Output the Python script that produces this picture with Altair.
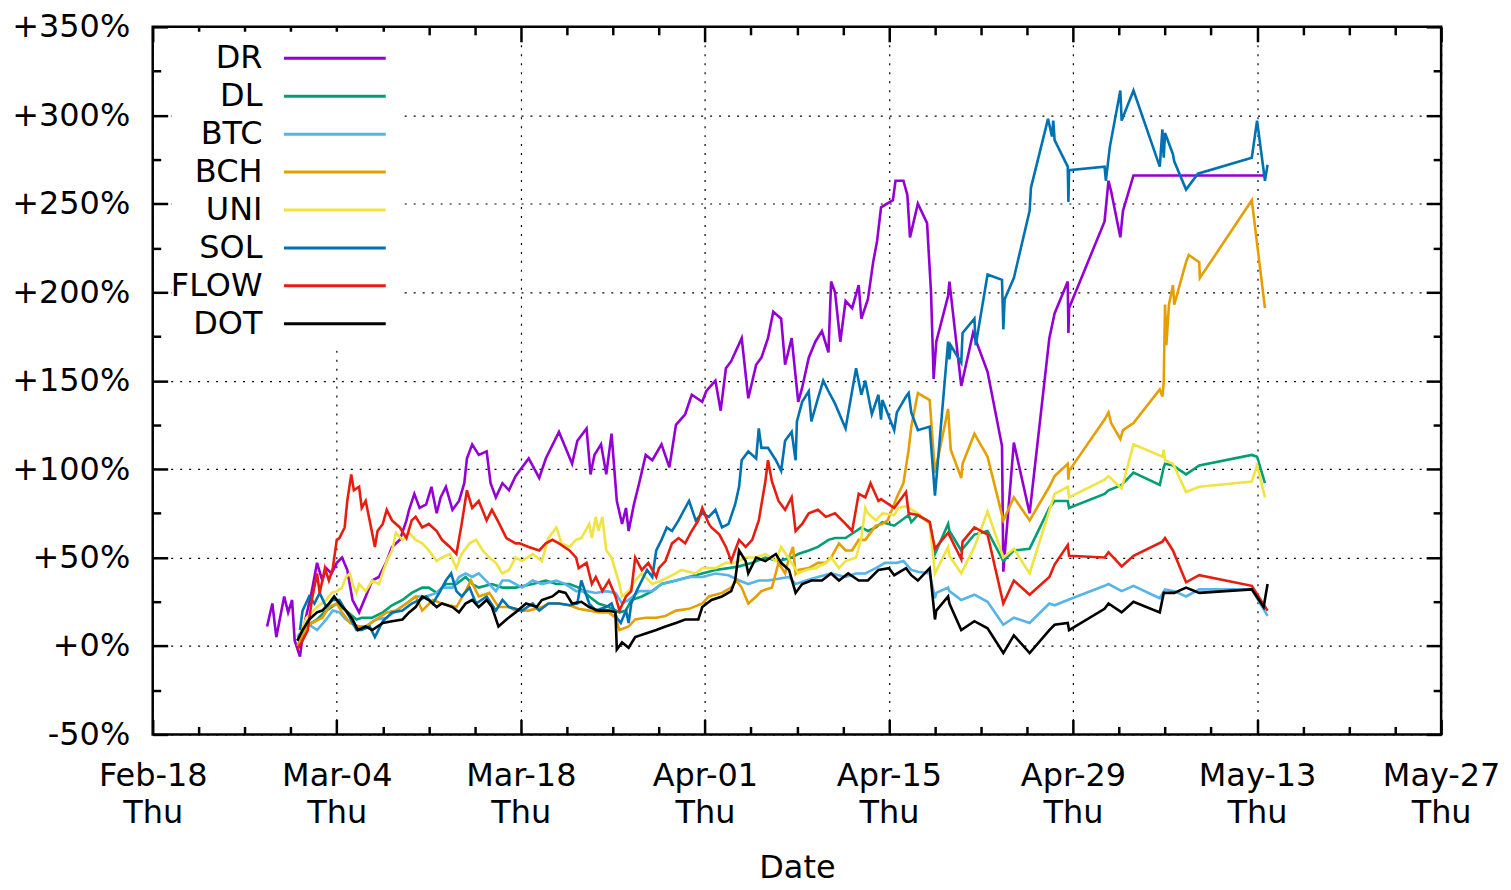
import altair as alt
import pandas as pd

# ---------------- data (day offset from 2021-02-18, percent change) ----------------
DR = [(8.7,11),(9.1,24),(9.4,5),(10.0,28),(10.3,19),(10.6,26),(10.8,3),(11.2,-6),(11.5,11),(12.1,31),(12.5,47),(12.9,37),(13.2,44),(13.6,41),(14.0,47),(14.4,50),(14.8,43),(15.2,26),(15.7,19),(16.2,28),(16.7,37),(17.2,39),(17.8,48),(18.2,56),(18.8,60),(19.3,71),(19.5,77),(19.9,86),(20.3,78),(20.8,80),(21.2,90),(21.6,75),(21.9,84),(22.3,90),(22.8,77),(23.3,82),(23.7,92),(23.9,106),(24.3,114),(24.8,108),(25.4,110),(25.7,92),(26.1,84),(26.6,92),(27.1,88),(27.6,96),(28.1,101),(28.6,106),(29.4,95),(29.9,106),(30.9,121),(31.4,112),(31.9,103),(32.3,116),(33.0,123),(33.3,97),(33.6,108),(34.1,114),(34.5,97),(34.9,120),(35.3,82),(35.7,69),(36.0,78),(36.2,65),(36.6,80),(37.0,92),(37.5,108),(38.0,105),(38.7,114),(39.3,101),(39.8,125),(40.5,131),(41.0,142),(41.8,138),(42.1,144),(42.8,150),(43.2,133),(43.6,157),(44.0,161),(44.8,174),(45.3,140),(45.9,159),(46.3,163),(46.8,174),(47.2,189),(47.8,185),(48.1,159),(48.6,174),(49.1,138),(49.4,146),(49.9,163),(50.4,172),(50.9,178),(51.4,166),(51.6,206),(51.9,200),(52.3,172),(52.7,195),(53.2,191),(53.7,204),(53.9,185),(54.4,196),(54.8,217),(55.1,229),(55.4,248),(56.3,252),(56.5,263),(57.1,263),(57.4,255),(57.6,231),(58.2,250),(58.9,239),(59.2,200),(59.4,151),(59.6,172),(60.5,198),(60.6,206),(61.5,147),(62.4,177),(63.5,155),(64.6,113),(64.7,42),(65.5,115),(66.7,75),(68.2,174),(68.6,188),(69.6,206),(69.65,177),(69.7,191),(72.4,240),(72.7,263),(72.9,257),(73.6,231),(73.8,246),(74.6,266),(84.6,266)]

DL = [(11.0,3),(11.7,11),(12.5,15),(13.2,20),(14.0,24),(14.7,20),(15.5,15),(15.9,16),(16.7,16),(17.5,19),(18.2,23),(19.0,26),(19.7,30),(20.5,33),(21.0,33),(21.6,30),(22.3,35),(23.1,35),(23.8,39),(24.3,35),(24.8,33),(25.8,35),(26.6,33),(27.6,33),(28.9,35),(29.9,37),(30.7,35),(31.7,35),(32.4,33),(33.2,28),(33.9,24),(34.7,22),(35.5,19),(36.0,20),(36.4,26),(37.2,28),(38.0,31),(38.7,35),(39.8,37),(40.8,39),(41.8,41),(42.8,43),(43.8,44),(44.6,45),(45.6,47),(46.6,50),(47.6,48),(48.6,50),(49.1,52),(49.9,54),(50.6,56),(51.4,60),(51.9,61),(52.7,61),(53.5,65),(53.9,67),(54.4,65),(55.0,67),(55.5,70),(56.4,68),(57.5,74),(57.7,70),(58.2,74),(59.1,70),(59.5,52),(60.5,69),(60.6,65),(61.5,54),(62.5,63),(63.5,65),(64.7,48),(65.5,54),(66.7,55),(68.2,78),(68.6,82),(69.6,82),(69.7,78),(72.4,86),(72.7,88),(73.7,91),(74.6,98),(76.6,91),(76.9,101),(77.0,103),(77.6,102),(78.6,97),(79.6,102),(83.6,108),(84.0,107),(84.6,92)]

BTC = [(11.0,5),(11.7,13),(12.5,9),(13.2,15),(13.7,20),(14.2,19),(14.7,15),(15.5,11),(16.2,11),(17.0,15),(17.8,16),(18.5,20),(19.3,24),(20.0,28),(20.8,28),(21.6,30),(22.0,33),(22.8,33),(23.3,39),(23.8,41),(24.3,39),(24.8,41),(25.6,35),(26.1,31),(26.6,37),(27.1,37),(28.1,33),(28.9,37),(29.6,35),(30.7,37),(31.4,35),(32.2,31),(33.0,31),(33.7,30),(34.5,31),(35.2,30),(35.7,24),(36.2,26),(37.0,31),(37.5,31),(38.0,31),(38.7,35),(39.8,37),(40.8,39),(41.8,39),(42.8,41),(43.8,40),(44.6,37),(45.3,35),(46.1,37),(46.8,37),(47.6,38),(48.4,39),(48.9,35),(49.7,37),(50.6,39),(51.6,41),(52.7,39),(53.5,41),(54.2,41),(55.0,44),(55.7,47),(56.6,47),(57.1,48),(57.7,43),(58.2,42),(59.1,41),(59.5,27),(59.6,30),(60.5,33),(60.6,31),(61.5,26),(62.5,29),(63.5,25),(64.7,12),(65.5,16),(66.7,13),(68.2,24),(68.6,23),(69.6,26),(72.4,34),(72.7,35),(73.7,31),(74.6,34),(76.6,27),(77.0,32),(77.7,31),(78.6,28),(79.6,32),(83.6,32),(84.8,17)]

BCH = [(11.0,0),(11.7,11),(12.1,13),(12.9,16),(13.4,22),(14.0,24),(14.4,19),(15.0,13),(15.7,11),(16.2,11),(17.0,15),(17.8,19),(18.5,20),(19.3,24),(20.0,28),(20.5,20),(21.3,26),(22.0,24),(23.1,22),(23.8,31),(24.2,37),(24.8,28),(25.6,30),(26.3,22),(27.1,22),(27.6,20),(28.6,20),(29.6,22),(30.1,24),(30.9,24),(31.7,23),(32.4,21),(33.2,20),(33.9,19),(34.7,19),(35.2,16),(35.5,9),(36.2,11),(36.7,15),(37.5,16),(38.3,16),(39.0,17),(39.8,20),(40.8,21),(41.8,24),(42.3,28),(43.3,30),(44.0,33),(44.4,37),(44.8,33),(45.3,24),(45.9,28),(46.3,31),(47.1,33),(47.6,47),(48.1,41),(48.4,50),(48.7,56),(48.9,41),(49.1,43),(49.9,44),(50.6,47),(51.2,47),(51.6,50),(52.2,58),(52.7,54),(53.2,54),(53.7,60),(54.2,60),(55.0,68),(55.5,69),(55.9,71),(56.6,84),(57.1,92),(57.5,111),(57.7,124),(58.2,143),(59.1,139),(59.5,98),(60.5,134),(60.7,111),(61.5,95),(61.6,103),(62.5,120),(63.5,107),(64.7,71),(65.5,84),(66.7,71),(68.2,90),(68.6,96),(69.6,103),(69.65,94),(69.7,99),(72.4,128),(72.7,132),(72.9,126),(73.6,117),(73.8,122),(74.6,126),(76.6,145),(76.8,141),(76.9,149),(77.0,193),(77.1,170),(77.3,193),(77.6,204),(77.7,193),(78.6,217),(78.8,221),(79.6,217),(79.65,208),(83.6,252),(84.6,191)]

UNI = [(11.2,7),(11.7,16),(12.5,22),(13.2,26),(13.6,30),(14.0,31),(14.4,33),(14.7,39),(15.0,41),(15.2,35),(15.5,30),(15.7,35),(16.2,31),(16.7,37),(17.2,35),(17.8,48),(18.2,54),(18.5,64),(19.0,60),(19.5,64),(20.0,60),(20.5,58),(21.0,54),(21.6,48),(22.0,50),(22.6,52),(23.1,44),(23.5,52),(24.1,58),(24.6,60),(25.1,54),(25.6,50),(26.1,47),(26.6,41),(27.1,43),(27.6,50),(28.1,48),(28.9,52),(29.6,48),(30.1,61),(30.7,67),(31.1,58),(31.7,56),(32.2,60),(32.6,61),(33.2,69),(33.4,61),(33.7,73),(33.9,65),(34.2,73),(34.5,54),(34.9,50),(35.5,35),(35.7,28),(36.2,31),(36.7,37),(37.2,41),(38.0,35),(38.7,37),(39.8,41),(40.2,43),(41.3,41),(41.8,44),(42.8,44),(43.6,47),(44.3,47),(45.1,50),(45.9,50),(46.6,52),(47.4,48),(47.8,56),(48.6,47),(49.1,41),(49.7,43),(50.4,44),(51.2,47),(51.6,50),(52.2,44),(52.7,48),(53.5,50),(53.9,61),(54.2,78),(54.4,75),(55.0,71),(55.5,75),(56.4,74),(56.7,78),(57.3,79),(58.2,75),(59.1,69),(59.5,41),(60.5,56),(60.6,51),(61.5,41),(62.5,56),(63.5,76),(64.7,50),(65.5,55),(66.7,41),(68.6,86),(69.6,90),(69.7,84),(72.4,94),(72.7,96),(73.7,89),(74.6,114),(76.8,107),(76.9,111),(77.0,105),(77.6,103),(78.6,87),(79.6,90),(83.6,93),(84.0,102),(84.6,84)]

SOL = [(11.2,9),(11.4,20),(11.9,28),(12.3,24),(12.7,30),(13.2,22),(13.7,26),(14.2,26),(15.0,16),(15.5,9),(15.9,9),(16.5,11),(16.9,5),(17.5,14),(18.2,19),(19.0,20),(19.7,24),(20.3,26),(20.8,28),(21.3,24),(21.8,30),(22.3,37),(22.7,41),(23.1,31),(23.5,28),(24.1,33),(24.6,24),(25.4,28),(26.1,20),(26.6,26),(27.1,22),(28.1,20),(28.9,24),(29.4,20),(30.1,24),(30.9,24),(31.7,23),(32.3,24),(32.6,37),(33.2,24),(33.7,20),(34.5,22),(34.9,24),(35.3,16),(35.6,13),(36.0,20),(36.2,13),(36.4,24),(36.8,31),(37.2,37),(37.6,43),(38.0,39),(38.3,54),(38.7,60),(39.1,67),(39.5,65),(40.0,71),(40.5,78),(40.8,82),(41.3,71),(41.8,75),(42.3,73),(42.8,77),(43.3,67),(43.8,69),(44.3,80),(44.6,90),(44.8,105),(45.3,110),(45.9,106),(46.1,123),(46.3,112),(46.8,112),(47.4,105),(47.8,99),(48.1,116),(48.6,121),(48.9,105),(49.0,127),(49.4,138),(49.9,144),(50.1,127),(50.6,140),(51.0,150),(51.4,144),(51.9,137),(52.7,123),(53.5,157),(53.9,142),(54.2,150),(54.7,131),(55.2,142),(55.4,128),(55.5,139),(56.4,122),(56.6,132),(57.3,141),(57.5,143),(57.7,132),(58.2,122),(59.1,124),(59.5,85),(60.5,172),(60.6,162),(60.7,170),(61.5,160),(61.6,177),(62.5,185),(62.6,170),(63.5,210),(64.6,207),(64.7,179),(64.8,196),(65.5,208),(66.7,246),(66.8,259),(68.1,298),(68.4,288),(68.5,297),(68.6,286),(69.6,271),(69.65,251),(69.7,269),(72.4,271),(72.5,263),(72.8,282),(73.6,314),(73.7,297),(74.6,314),(76.6,271),(76.8,292),(76.9,276),(77.0,290),(77.6,278),(77.7,274),(78.6,258),(79.5,267),(83.6,276),(84.0,297),(84.6,263),(84.8,272)]

FLOW = [(11.0,-2),(11.4,3),(11.8,9),(12.1,26),(12.5,41),(12.7,30),(13.1,44),(13.4,37),(13.7,44),(14.0,60),(14.2,61),(14.6,67),(14.8,82),(15.1,97),(15.3,88),(15.7,90),(15.9,78),(16.2,82),(16.5,71),(16.9,56),(17.1,65),(17.5,69),(17.8,77),(18.2,71),(18.8,67),(19.3,61),(19.7,71),(20.0,73),(20.5,67),(21.0,69),(21.6,65),(22.0,60),(22.6,56),(23.1,52),(23.5,69),(23.9,88),(24.3,78),(24.8,82),(25.4,71),(25.8,77),(26.3,70),(26.9,61),(27.6,58),(27.9,58),(28.6,56),(29.4,54),(29.9,58),(30.4,60),(30.9,58),(31.7,54),(32.2,50),(32.4,44),(33.0,47),(33.4,35),(33.7,39),(34.2,31),(34.7,37),(35.2,28),(35.5,20),(36.0,28),(36.4,31),(36.7,50),(37.2,43),(37.7,47),(38.3,39),(38.5,44),(39.0,48),(39.5,58),(40.0,61),(40.5,58),(41.0,65),(41.5,71),(41.8,78),(42.3,69),(42.5,67),(43.1,63),(43.6,56),(44.0,48),(44.6,60),(45.1,56),(45.6,60),(46.1,71),(46.6,93),(46.8,105),(47.1,93),(47.6,82),(48.1,77),(48.6,84),(48.9,65),(49.4,69),(49.9,75),(50.6,77),(51.2,73),(51.9,75),(52.7,69),(53.2,65),(53.7,86),(54.2,84),(54.6,92),(55.2,82),(55.4,83),(56.4,78),(57.3,87),(57.5,75),(58.2,74),(59.1,70),(59.5,55),(60.5,64),(61.5,49),(61.6,59),(62.5,67),(63.5,63),(64.7,24),(65.5,37),(66.7,29),(68.2,39),(68.6,46),(69.6,57),(69.7,51),(72.4,50),(72.7,53),(73.7,45),(74.6,51),(76.8,59),(77.0,61),(77.6,54),(78.6,36),(79.6,40),(83.6,34),(84.8,20)]

DOT = [(11.0,3),(11.4,9),(11.9,15),(12.5,19),(12.9,20),(13.4,24),(13.8,28),(14.2,24),(14.7,20),(15.2,15),(15.6,9),(16.2,11),(16.7,9),(17.5,13),(18.2,14),(19.0,15),(19.5,19),(20.0,22),(20.5,28),(21.0,26),(21.6,22),(22.0,24),(22.8,22),(23.3,19),(23.8,24),(24.3,26),(24.8,22),(25.4,26),(25.8,22),(26.3,11),(26.9,15),(27.6,19),(28.4,24),(29.2,22),(29.6,26),(30.4,28),(30.9,31),(31.4,30),(31.9,24),(32.6,25),(33.2,22),(33.9,20),(34.7,20),(35.2,19),(35.3,-2),(35.7,2),(36.2,-1),(36.7,5),(37.5,7),(38.3,9),(39.0,11),(39.8,13),(40.5,15),(41.5,15),(41.8,22),(42.5,26),(43.3,28),(44.0,31),(44.3,37),(44.6,54),(45.1,48),(45.3,41),(45.9,50),(46.6,48),(47.4,52),(47.8,47),(48.4,43),(48.9,30),(49.4,35),(50.1,37),(50.9,37),(51.6,41),(52.2,37),(52.9,41),(53.7,37),(54.4,37),(55.2,43),(56.0,44),(56.4,40),(57.3,44),(57.7,40),(58.2,37),(59.1,44),(59.5,15),(59.6,20),(60.5,28),(60.6,24),(61.5,9),(62.5,14),(63.5,10),(64.7,-4),(65.5,6),(66.7,-4),(68.2,9),(68.6,12),(69.6,13),(69.7,9),(72.4,21),(72.7,24),(73.7,19),(74.6,25),(76.6,19),(76.9,30),(77.7,30),(78.6,33),(79.6,30),(83.6,32),(84.5,22),(84.8,35)]

SERIES = ["DR", "DL", "BTC", "BCH", "UNI", "SOL", "FLOW", "DOT"]
COLORS = ["#9400d3", "#009e73", "#56b4e9", "#e69f00", "#f0e442", "#0072b2", "#e51e10", "#000000"]
BASE = pd.Timestamp("2021-02-18")
Y_MAJOR = [-50, 0, 50, 100, 150, 200, 250, 300, 350]
Y_MINOR = [-25, 25, 75, 125, 175, 225, 275, 325]

rows = []
for name, pts in zip(SERIES, [DR, DL, BTC, BCH, UNI, SOL, FLOW, DOT]):
    for d, p in pts:
        rows.append({"series": name, "date": BASE + pd.Timedelta(days=d), "pct": p})
df = pd.DataFrame(rows)


def dt(ts):
    return alt.DateTime(year=ts.year, month=ts.month, date=ts.day, hours=ts.hour)


X_MAJOR = [dt(BASE + pd.Timedelta(days=14 * k)) for k in range(8)]
X_MINOR = [dt(BASE + pd.Timedelta(days=3.5 * j)) for j in range(1, 28) if j % 4 != 0]

xscale = alt.Scale(domain=[X_MAJOR[0], X_MAJOR[-1]])
yscale = alt.Scale(domain=[-50, 350], nice=False, zero=False)

FONT = "DejaVu Sans"
W, H = 1291, 709

lines = alt.Chart(df).mark_line(strokeWidth=2.6).encode(
    x=alt.X("date:T", scale=xscale, axis=alt.Axis(
        orient="bottom", values=X_MAJOR,
        labelExpr="[timeFormat(datum.value, '%b-%d'), timeFormat(datum.value, '%a')]",
        labelFont=FONT, labelFontSize=32, labelColor="black", labelPadding=26,
        labelLineHeight=37, labelBaseline="top", labelAlign="center",
        labelOverlap=False, labelFlush=False, labelBound=False,
        ticks=False, tickSize=0, domain=False,
        grid=True, gridColor="black", gridDash=[2, 7], gridWidth=1.2,
        title="Date", titleFont=FONT, titleFontSize=32, titleFontWeight="normal",
        titleColor="black", titlePadding=24)),
    y=alt.Y("pct:Q", scale=yscale, axis=alt.Axis(
        orient="left", values=Y_MAJOR,
        labelExpr="(datum.value >= 0 ? '+' : '') + datum.value + '%'",
        labelFont=FONT, labelFontSize=32, labelColor="black", labelPadding=23,
        labelOverlap=False, labelFlush=False, labelBound=False,
        ticks=False, tickSize=0, domain=False,
        grid=True, gridColor="black", gridDash=[2, 7], gridWidth=1.2,
        title=None)),
    color=alt.Color("series:N", scale=alt.Scale(domain=SERIES, range=COLORS),
                    legend=alt.Legend(
                        title=None, orient="none", direction="vertical",
                        legendX=19, legendY=5, padding=10, fillColor="white",
                        symbolType="M-3.4,0H3.4", symbolSize=900, symbolStrokeWidth=3,
                        symbolOffset=137, labelOffset={"expr": "-89"}, labelAlign="right",
                        labelFont=FONT, labelFontSize=32, labelColor="black",
                        labelLimit=400, rowPadding=5)),
)

corner = pd.DataFrame({"date": [BASE, BASE + pd.Timedelta(days=98)], "pct": [-50, 350]})


def tick_layer(xorient, yorient, xvals, yvals, size):
    common = dict(labels=False, domain=False, grid=False, title=None,
                  tickSize=size, offset=-size, tickWidth=2.5, tickColor="black")
    return alt.Chart(corner).mark_point(opacity=0).encode(
        x=alt.X("date:T", scale=xscale, axis=alt.Axis(orient=xorient, values=xvals, **common)),
        y=alt.Y("pct:Q", scale=yscale, axis=alt.Axis(orient=yorient, values=yvals, **common)),
    )


chart = alt.layer(
    lines,
    tick_layer("bottom", "left", X_MAJOR, Y_MAJOR, 15),
    tick_layer("bottom", "left", X_MINOR, Y_MINOR, 8),
    tick_layer("top", "right", X_MAJOR, Y_MAJOR, 15),
    tick_layer("top", "right", X_MINOR, Y_MINOR, 8),
).resolve_axis(x="independent", y="independent").properties(
    width=W, height=H,
    autosize=alt.AutoSizeParams(type="none"),
    padding={"left": 145, "top": 18, "right": 62, "bottom": 152},
).configure(background="white", font=FONT).configure_view(stroke="black", strokeWidth=2.5)

chart.save("out.html", embed_options={"renderer": "svg", "actions": False})
